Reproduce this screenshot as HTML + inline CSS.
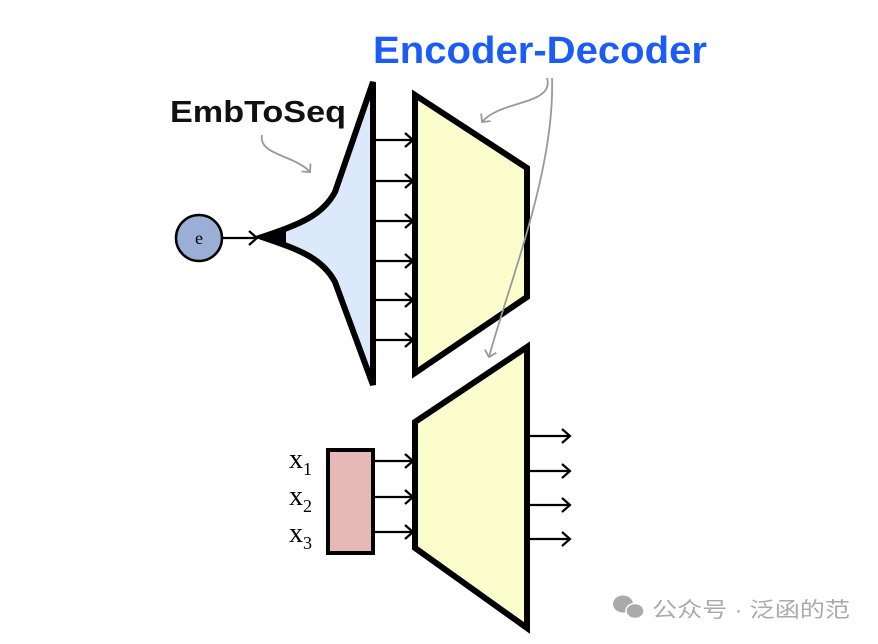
<!DOCTYPE html>
<html><head><style>body{margin:0;background:#fff}svg{display:block}</style></head><body>
<svg width="878" height="644" viewBox="0 0 878 644" xmlns="http://www.w3.org/2000/svg">
<defs>
<marker id="a" markerWidth="12" markerHeight="18" refX="10" refY="9" orient="auto" markerUnits="userSpaceOnUse"><path d="M2,2 L10,9 L2,16" fill="none" stroke="#000" stroke-width="2.2"/></marker>
<marker id="g" markerWidth="14" markerHeight="14" refX="7" refY="7" orient="auto" markerUnits="userSpaceOnUse"><path d="M1,1 L7,7 L1,13" fill="none" stroke="#999" stroke-width="1.8"/></marker>
</defs>
<text x="373" y="63" textLength="334" lengthAdjust="spacingAndGlyphs" font-family="Liberation Sans, sans-serif" font-weight="bold" font-size="38" fill="#1a5cf5">Encoder-Decoder</text>
<text x="170" y="122" textLength="176" lengthAdjust="spacingAndGlyphs" font-family="Liberation Sans, sans-serif" font-weight="bold" font-size="31" fill="#111">EmbToSeq</text>
<path d="M373,82 L373,385 L335,282 C322,258 300,250 262,237 C300,224 322,216 335,192 Z" fill="#dbe9fa" stroke="#000" stroke-width="6" stroke-linejoin="miter"/>
<polygon points="262,237 286,228 286,246" fill="#000"/>
<polygon points="415,95 527,168 527,297 415,373" fill="#fbfdcc" stroke="#000" stroke-width="6"/>
<polygon points="415,422 527,347 527,628 415,548" fill="#fbfdcc" stroke="#000" stroke-width="6"/>
<rect x="328" y="450" width="45" height="103" fill="#e6b8b8" stroke="#000" stroke-width="4"/>
<g fill="none" stroke="#999" stroke-width="1.8">
<path d="M262,135 C258,155 295,155 310,172" marker-end="url(#g)"/>
<path d="M547,78 C555,105 500,100 482,122" marker-end="url(#g)"/>
<path d="M552,78 C555,170 510,280 489,357" marker-end="url(#g)"/>
</g>
<g stroke="#000" stroke-width="2.2" marker-end="url(#a)">
<line x1="376" y1="140" x2="413" y2="140"/><line x1="376" y1="181" x2="413" y2="181"/>
<line x1="376" y1="221" x2="413" y2="221"/><line x1="376" y1="261" x2="413" y2="261"/>
<line x1="376" y1="300" x2="413" y2="300"/><line x1="376" y1="340" x2="413" y2="340"/>
<line x1="375" y1="461" x2="413" y2="461"/><line x1="375" y1="497" x2="413" y2="497"/>
<line x1="375" y1="532" x2="413" y2="532"/>
<line x1="530" y1="436" x2="570" y2="436"/><line x1="530" y1="471" x2="570" y2="471"/>
<line x1="530" y1="505" x2="570" y2="505"/><line x1="530" y1="539" x2="570" y2="539"/>
<line x1="223" y1="238" x2="257" y2="238"/>
</g>
<circle cx="199" cy="238" r="23" fill="#9aaed6" stroke="#000" stroke-width="2.5"/>
<text x="199" y="244" text-anchor="middle" font-family="Liberation Serif, serif" font-size="18">e</text>
<g font-family="Liberation Serif, serif" font-size="28" fill="#000">
<text x="289" y="468">x<tspan font-size="18" dy="7">1</tspan></text>
<text x="289" y="505">x<tspan font-size="18" dy="7">2</tspan></text>
<text x="289" y="542">x<tspan font-size="18" dy="7">3</tspan></text>
</g>
<g fill="#aaa"><ellipse cx="623" cy="604" rx="10" ry="8.5"/><ellipse cx="635" cy="611" rx="9" ry="7.5" stroke="#fff" stroke-width="1.5"/></g>
<text x="652" y="617" textLength="198" lengthAdjust="spacingAndGlyphs" font-family="Liberation Sans, 'Noto Sans CJK SC', sans-serif" font-size="21" fill="#aaa">公众号 · 泛函的范</text>
</svg>
</body></html>
